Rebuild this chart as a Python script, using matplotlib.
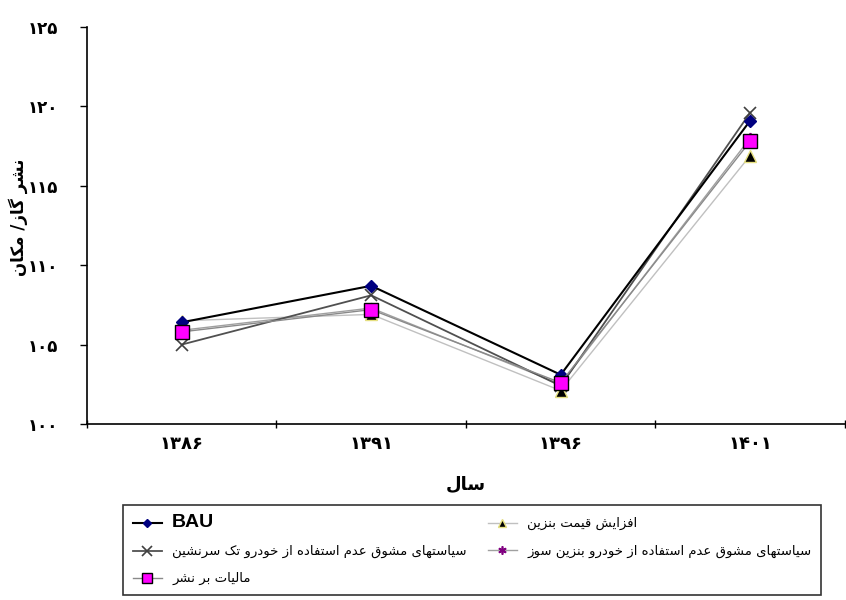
import matplotlib
matplotlib.use("Agg")
import matplotlib.pyplot as plt

# ---------------- data ----------------
years = ["۱۳۸۶", "۱۳۹۱", "۱۳۹۶", "۱۴۰۱"]
y_ticks = [100, 105, 110, 115, 120, 125]
y_tick_labels = ["۱۰۰", "۱۰۵", "۱۱۰", "۱۱۵", "۱۲۰", "۱۲۵"]

bau = [106.4, 108.7, 103.1, 119.1]
price_up = [106.5, 106.9, 102.1, 116.9]
single_occ = [105.0, 108.1, 102.4, 119.6]
gasoline = [105.9, 107.3, 102.5, 118.0]
emission_tax = [105.8, 107.2, 102.6, 117.8]

lbl_bau = "BAU"
lbl_price = "افزایش قیمت بنزین"
lbl_single = "سیاستهای مشوق عدم استفاده از خودرو تک سرنشین"
lbl_gas = "سیاستهای مشوق عدم استفاده از خودرو بنزین سوز"
lbl_tax = "مالیات بر نشر"
x_label = "سال"
y_label = "نشر گاز/ مکان"

# ------------- simple Arabic/Persian shaping (matplotlib 3.10 has no CTL) -------------
FORMS = {
    '\u0627': ('\uFE8D', '\uFE8E', None, None),
    '\u0622': ('\uFE81', '\uFE82', None, None),
    '\u0628': ('\uFE8F', '\uFE90', '\uFE91', '\uFE92'),
    '\u067E': ('\uFB56', '\uFB57', '\uFB58', '\uFB59'),
    '\u062A': ('\uFE95', '\uFE96', '\uFE97', '\uFE98'),
    '\u062B': ('\uFE99', '\uFE9A', '\uFE9B', '\uFE9C'),
    '\u062C': ('\uFE9D', '\uFE9E', '\uFE9F', '\uFEA0'),
    '\u0686': ('\uFB7A', '\uFB7B', '\uFB7C', '\uFB7D'),
    '\u062D': ('\uFEA1', '\uFEA2', '\uFEA3', '\uFEA4'),
    '\u062E': ('\uFEA5', '\uFEA6', '\uFEA7', '\uFEA8'),
    '\u062F': ('\uFEA9', '\uFEAA', None, None),
    '\u0630': ('\uFEAB', '\uFEAC', None, None),
    '\u0631': ('\uFEAD', '\uFEAE', None, None),
    '\u0632': ('\uFEAF', '\uFEB0', None, None),
    '\u0698': ('\uFB8A', '\uFB8B', None, None),
    '\u0633': ('\uFEB1', '\uFEB2', '\uFEB3', '\uFEB4'),
    '\u0634': ('\uFEB5', '\uFEB6', '\uFEB7', '\uFEB8'),
    '\u0635': ('\uFEB9', '\uFEBA', '\uFEBB', '\uFEBC'),
    '\u0636': ('\uFEBD', '\uFEBE', '\uFEBF', '\uFEC0'),
    '\u0637': ('\uFEC1', '\uFEC2', '\uFEC3', '\uFEC4'),
    '\u0638': ('\uFEC5', '\uFEC6', '\uFEC7', '\uFEC8'),
    '\u0639': ('\uFEC9', '\uFECA', '\uFECB', '\uFECC'),
    '\u063A': ('\uFECD', '\uFECE', '\uFECF', '\uFED0'),
    '\u0641': ('\uFED1', '\uFED2', '\uFED3', '\uFED4'),
    '\u0642': ('\uFED5', '\uFED6', '\uFED7', '\uFED8'),
    '\u06A9': ('\uFB8E', '\uFB8F', '\uFB90', '\uFB91'),
    '\u06AF': ('\uFB92', '\uFB93', '\uFB94', '\uFB95'),
    '\u0644': ('\uFEDD', '\uFEDE', '\uFEDF', '\uFEE0'),
    '\u0645': ('\uFEE1', '\uFEE2', '\uFEE3', '\uFEE4'),
    '\u0646': ('\uFEE5', '\uFEE6', '\uFEE7', '\uFEE8'),
    '\u0647': ('\uFEE9', '\uFEEA', '\uFEEB', '\uFEEC'),
    '\u0648': ('\uFEED', '\uFEEE', None, None),
    '\u06CC': ('\uFBFC', '\uFBFD', '\uFBFE', '\uFBFF'),
    '\u064A': ('\uFEF1', '\uFEF2', '\uFEF3', '\uFEF4'),
}


def shape(text):
    chars = list(text)
    out = []
    n = len(chars)
    for i, c in enumerate(chars):
        if c not in FORMS:
            out.append(c)
            continue
        iso, fin, ini, med = FORMS[c]
        prev = chars[i - 1] if i > 0 else None
        nxt = chars[i + 1] if i + 1 < n else None
        join_prev = prev in FORMS and FORMS[prev][2] is not None
        join_next = nxt in FORMS and ini is not None
        if join_prev and join_next:
            out.append(med)
        elif join_prev:
            out.append(fin)
        elif join_next:
            out.append(ini)
        else:
            out.append(iso)
    return "".join(out)[::-1]


plt.rcParams['font.family'] = ['DejaVu Sans']

fig = plt.figure(figsize=(8.46, 6.0), dpi=100)
ax = fig.add_axes([0.1028, 0.2933, 0.896, 0.662])

xpos = [i + 0.5 for i in range(len(years))]

series = [
    (bau, lbl_bau, dict(color='black', lw=1.5, marker='D', ms=6,
                        mfc='#000080', mec='#000080', zorder=5)),
    (single_occ, shape(lbl_single), dict(color='#505050', lw=1.3, marker='x', ms=9,
                                         mew=1.2, mec='#404040', zorder=4)),
    (emission_tax, shape(lbl_tax), dict(color='#8a8a8a', lw=1.0, marker='s', ms=10,
                                        mfc='#ff00ff', mec='black', mew=1.0, zorder=6)),
    (price_up, shape(lbl_price), dict(color='#c0c0c0', lw=1.0, marker='^', ms=8,
                                      mfc='black', mec='#e6e080', mew=1.0, zorder=3)),
    (gasoline, shape(lbl_gas), dict(color='#a0a0a0', lw=1.0, marker=(6, 2, 0), ms=8,
                                    mec='#800080', mew=1.2, zorder=3)),
]

handles = []
for vals, lbl, st in series:
    h, = ax.plot(xpos, vals, label=lbl, **st)
    handles.append(h)

ax.set_xlim(0, len(years))
ax.set_ylim(100, 125)
ax.set_yticks(y_ticks)
ax.set_yticklabels(y_tick_labels, fontsize=12, fontweight='bold')
ax.set_xticks(range(len(years) + 1))
ax.set_xticklabels([])
ax.set_xticks(xpos, minor=True)
ax.set_xticklabels(years, minor=True, fontsize=13, fontweight='bold')
ax.tick_params(axis='x', which='minor', length=0, pad=8)
ax.tick_params(axis='x', which='major', length=6, direction='inout', width=1)
ax.tick_params(axis='y', length=5, direction='out', width=1, pad=16)
for s in ['top', 'right']:
    ax.spines[s].set_visible(False)
for s in ['left', 'bottom']:
    ax.spines[s].set_linewidth(1.2)

ax.set_xlabel(shape(x_label), fontsize=13, fontweight='bold', labelpad=16)
ax.set_ylabel(shape(y_label), fontsize=12, fontweight='bold')
ax.yaxis.set_label_coords(-0.078, 0.52)

leg = fig.legend(handles=handles, labels=[h.get_label() for h in handles],
                 ncol=2, loc='lower left', bbox_to_anchor=(0.138, -0.002),
                 frameon=True, fancybox=False, shadow=False, fontsize=9.5,
                 handlelength=2.2, handletextpad=0.8, columnspacing=1.6,
                 labelspacing=1.05, borderpad=0.7, edgecolor='black',
                 markerscale=0.75)
leg.get_frame().set_linewidth(1.2)
for t in leg.get_texts():
    if t.get_text() == lbl_bau:
        t.set_fontsize(14)
        t.set_fontweight('bold')
        t.set_family('Liberation Sans')

fig.savefig("out.png", dpi=100)
